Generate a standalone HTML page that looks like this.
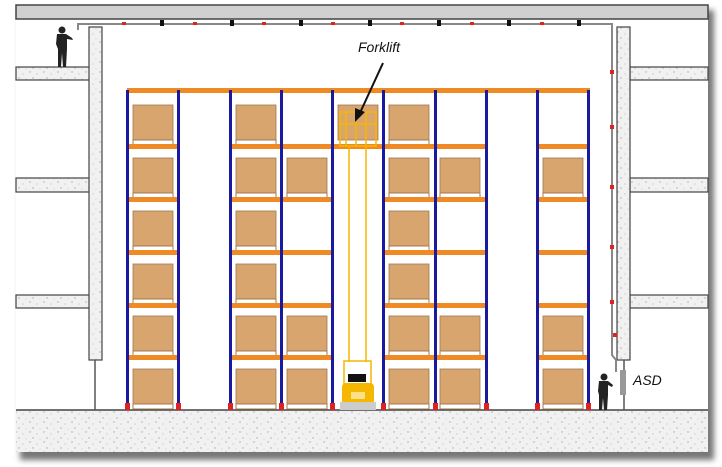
<!DOCTYPE html>
<html><head><meta charset="utf-8"><style>
html,body{margin:0;padding:0;background:#fff;width:722px;height:467px;overflow:hidden}
</style></head><body>
<svg width="722" height="467" viewBox="0 0 722 467" xmlns="http://www.w3.org/2000/svg">
<defs>
<filter id="sh" x="-5%" y="-5%" width="115%" height="115%"><feGaussianBlur stdDeviation="3"/></filter>
<pattern id="sp" width="14" height="10" patternUnits="userSpaceOnUse">
<rect width="14" height="10" fill="#f1f1f1"/>
<circle cx="2" cy="2" r="0.7" fill="#aaa"/><circle cx="9" cy="4" r="0.6" fill="#bbb"/><circle cx="5" cy="8" r="0.7" fill="#aaa"/><circle cx="12" cy="9" r="0.5" fill="#bbb"/>
</pattern>
</defs>
<rect x="20" y="10" width="694" height="450" fill="#777" filter="url(#sh)"/>
<rect x="16" y="5" width="692" height="447" fill="#fff"/>
<!-- ceiling -->
<rect x="16" y="5" width="692" height="14" fill="#d0d0d0" stroke="#444" stroke-width="1.5"/>
<!-- floor -->
<rect x="16" y="410" width="692" height="42" fill="url(#sp)"/>
<line x1="16" y1="410" x2="708" y2="410" stroke="#444" stroke-width="1.5"/>
<!-- left slabs -->
<g fill="url(#sp)" stroke="#444" stroke-width="1.2">
<rect x="16" y="67" width="76" height="13"/><rect x="16" y="178" width="76" height="14"/><rect x="16" y="295" width="76" height="13"/>
<rect x="89" y="27" width="13" height="333"/>
<rect x="630" y="67" width="78" height="13"/><rect x="630" y="178" width="78" height="14"/><rect x="630" y="295" width="78" height="13"/>
<rect x="617" y="27" width="13" height="333"/>
</g>
<rect x="90" y="66" width="11" height="128" fill="url(#sp)"/>
<line x1="95" y1="360" x2="95" y2="410" stroke="#555" stroke-width="1.5"/>
<line x1="624" y1="360" x2="624" y2="410" stroke="#555" stroke-width="1.5"/>
<!-- pipe -->
<path d="M78,30 V24 H612 V355 L616,360 V372" fill="none" stroke="#888" stroke-width="2"/>
<rect x="620" y="370" width="6" height="25" fill="#999"/>
<g fill="#d22">
<rect x="122" y="22" width="4" height="3"/><rect x="193" y="22" width="4" height="3"/><rect x="262" y="22" width="4" height="3"/><rect x="331" y="22" width="4" height="3"/><rect x="400" y="22" width="4" height="3"/><rect x="470" y="22" width="4" height="3"/><rect x="540" y="22" width="4" height="3"/>
<rect x="610" y="70" width="4" height="4"/><rect x="610" y="125" width="4" height="4"/><rect x="610" y="185" width="4" height="4"/><rect x="610" y="245" width="4" height="4"/><rect x="610" y="300" width="4" height="4"/><rect x="613" y="333" width="4" height="4"/>
</g>
<g fill="#111">
<rect x="160" y="20" width="4" height="6"/><rect x="230" y="20" width="4" height="6"/><rect x="299" y="20" width="4" height="6"/><rect x="368" y="20" width="4" height="6"/><rect x="437" y="20" width="4" height="6"/><rect x="507" y="20" width="4" height="6"/><rect x="577" y="20" width="4" height="6"/>
</g>
<!-- people -->
<g fill="#222">
<circle cx="62" cy="30" r="3.5"/><path d="M57,34 h9 l6,4 l1,2 l-6,-1 v10 l-1,18 h-3 l-1,-14 l-1,14 h-3 v-18 l-2,-5z"/>
<circle cx="604" cy="377" r="3.5"/><path d="M599,381 h9 l5,4 l-1,2 l-4,-2 v10 l-1,15 h-3 l-1,-12 l-1,12 h-3 v-15 l-1,-4z"/>
</g>
<!-- boxes -->
<g id="boxes">
<g fill="#d9a56e" stroke="#a07850" stroke-width="0.8">
<!-- bay 127 -->
<rect x="133" y="105" width="40" height="35"/><rect x="133" y="158" width="40" height="35"/><rect x="133" y="211" width="40" height="35"/><rect x="133" y="264" width="40" height="35"/><rect x="133" y="316" width="40" height="35"/><rect x="133" y="369" width="40" height="35"/>
<rect x="236" y="105" width="40" height="35"/><rect x="236" y="158" width="40" height="35"/><rect x="236" y="211" width="40" height="35"/><rect x="236" y="264" width="40" height="35"/><rect x="236" y="316" width="40" height="35"/><rect x="236" y="369" width="40" height="35"/>
<rect x="287" y="158" width="40" height="35"/><rect x="287" y="316" width="40" height="35"/><rect x="287" y="369" width="40" height="35"/>
<rect x="338" y="105" width="40" height="35"/>
<rect x="389" y="105" width="40" height="35"/><rect x="389" y="158" width="40" height="35"/><rect x="389" y="211" width="40" height="35"/><rect x="389" y="264" width="40" height="35"/><rect x="389" y="316" width="40" height="35"/><rect x="389" y="369" width="40" height="35"/>
<rect x="440" y="158" width="40" height="35"/><rect x="440" y="316" width="40" height="35"/><rect x="440" y="369" width="40" height="35"/>
<rect x="543" y="158" width="40" height="35"/><rect x="543" y="316" width="40" height="35"/><rect x="543" y="369" width="40" height="35"/>
</g>
</g>
<g fill="#fff" stroke="#a07850" stroke-width="1">
<rect x="133" y="140" width="40" height="5"/><rect x="133" y="193" width="40" height="5"/><rect x="133" y="246" width="40" height="5"/><rect x="133" y="299" width="40" height="5"/><rect x="133" y="351" width="40" height="5"/><rect x="133" y="404" width="40" height="5"/>
<rect x="236" y="140" width="40" height="5"/><rect x="236" y="193" width="40" height="5"/><rect x="236" y="246" width="40" height="5"/><rect x="236" y="299" width="40" height="5"/><rect x="236" y="351" width="40" height="5"/><rect x="236" y="404" width="40" height="5"/>
<rect x="287" y="193" width="40" height="5"/><rect x="287" y="351" width="40" height="5"/><rect x="287" y="404" width="40" height="5"/>
<rect x="389" y="140" width="40" height="5"/><rect x="389" y="193" width="40" height="5"/><rect x="389" y="246" width="40" height="5"/><rect x="389" y="299" width="40" height="5"/><rect x="389" y="351" width="40" height="5"/><rect x="389" y="404" width="40" height="5"/>
<rect x="440" y="193" width="40" height="5"/><rect x="440" y="351" width="40" height="5"/><rect x="440" y="404" width="40" height="5"/>
<rect x="543" y="193" width="40" height="5"/><rect x="543" y="351" width="40" height="5"/><rect x="543" y="404" width="40" height="5"/>
</g>
<!-- beams -->
<g fill="#f08a24">
<rect x="127" y="88" width="463" height="5"/>
<rect x="127" y="144" width="51" height="5"/><rect x="127" y="197" width="51" height="5"/><rect x="127" y="250" width="51" height="5"/><rect x="127" y="303" width="51" height="5"/><rect x="127" y="355" width="51" height="5"/>
<rect x="230" y="144" width="102" height="5"/><rect x="230" y="197" width="102" height="5"/><rect x="230" y="250" width="102" height="5"/><rect x="230" y="303" width="102" height="5"/><rect x="230" y="355" width="102" height="5"/>
<rect x="332" y="144" width="51" height="5"/>
<rect x="383" y="144" width="103" height="5"/><rect x="383" y="197" width="103" height="5"/><rect x="383" y="250" width="103" height="5"/><rect x="383" y="303" width="103" height="5"/><rect x="383" y="355" width="103" height="5"/>
<rect x="537" y="144" width="51" height="5"/><rect x="537" y="197" width="51" height="5"/><rect x="537" y="250" width="51" height="5"/><rect x="537" y="303" width="51" height="5"/><rect x="537" y="355" width="51" height="5"/>
</g>
<!-- uprights -->
<g fill="#1a1aa0">
<rect x="126" y="90" width="3" height="320"/><rect x="177" y="90" width="3" height="320"/><rect x="229" y="90" width="3" height="320"/><rect x="280" y="90" width="3" height="320"/><rect x="331" y="90" width="3" height="320"/><rect x="382" y="90" width="3" height="320"/><rect x="434" y="90" width="3" height="320"/><rect x="485" y="90" width="3" height="320"/><rect x="536" y="90" width="3" height="320"/><rect x="587" y="90" width="3" height="320"/>
</g>
<g fill="#d22">
<rect x="125" y="403" width="5" height="7"/><rect x="176" y="403" width="5" height="7"/><rect x="228" y="403" width="5" height="7"/><rect x="279" y="403" width="5" height="7"/><rect x="330" y="403" width="5" height="7"/><rect x="381" y="403" width="5" height="7"/><rect x="433" y="403" width="5" height="7"/><rect x="484" y="403" width="5" height="7"/><rect x="535" y="403" width="5" height="7"/><rect x="586" y="403" width="5" height="7"/>
</g>
<!-- forklift -->
<g stroke="#f5b700" fill="none" stroke-width="1.5">
<rect x="340" y="112" width="36" height="34"/>
<line x1="346" y1="112" x2="346" y2="146"/><line x1="356" y1="112" x2="356" y2="146"/><line x1="366" y1="112" x2="366" y2="146"/>
<line x1="340" y1="124" x2="376" y2="124"/>
<line x1="349" y1="146" x2="349" y2="362"/><line x1="366" y1="146" x2="366" y2="362"/>
<rect x="344" y="361" width="27" height="28"/>
</g>
<rect x="348" y="374" width="18" height="8" fill="#111"/>
<rect x="342" y="383" width="32" height="22" rx="4" fill="#f5b700"/>
<rect x="351" y="392" width="14" height="7" fill="#fbe08a"/>
<rect x="340" y="402" width="36" height="8" fill="#ccc"/>
<!-- labels -->
<text x="358" y="52" font-family="Liberation Sans, sans-serif" font-style="italic" font-size="14" fill="#111">Forklift</text>
<line x1="383" y1="63" x2="359" y2="115" stroke="#111" stroke-width="2"/>
<polygon points="355,122 355,108 365,112" fill="#111"/>
<text x="633" y="385" font-family="Liberation Sans, sans-serif" font-style="italic" font-size="14" fill="#111">ASD</text>
</svg>
</body></html>
